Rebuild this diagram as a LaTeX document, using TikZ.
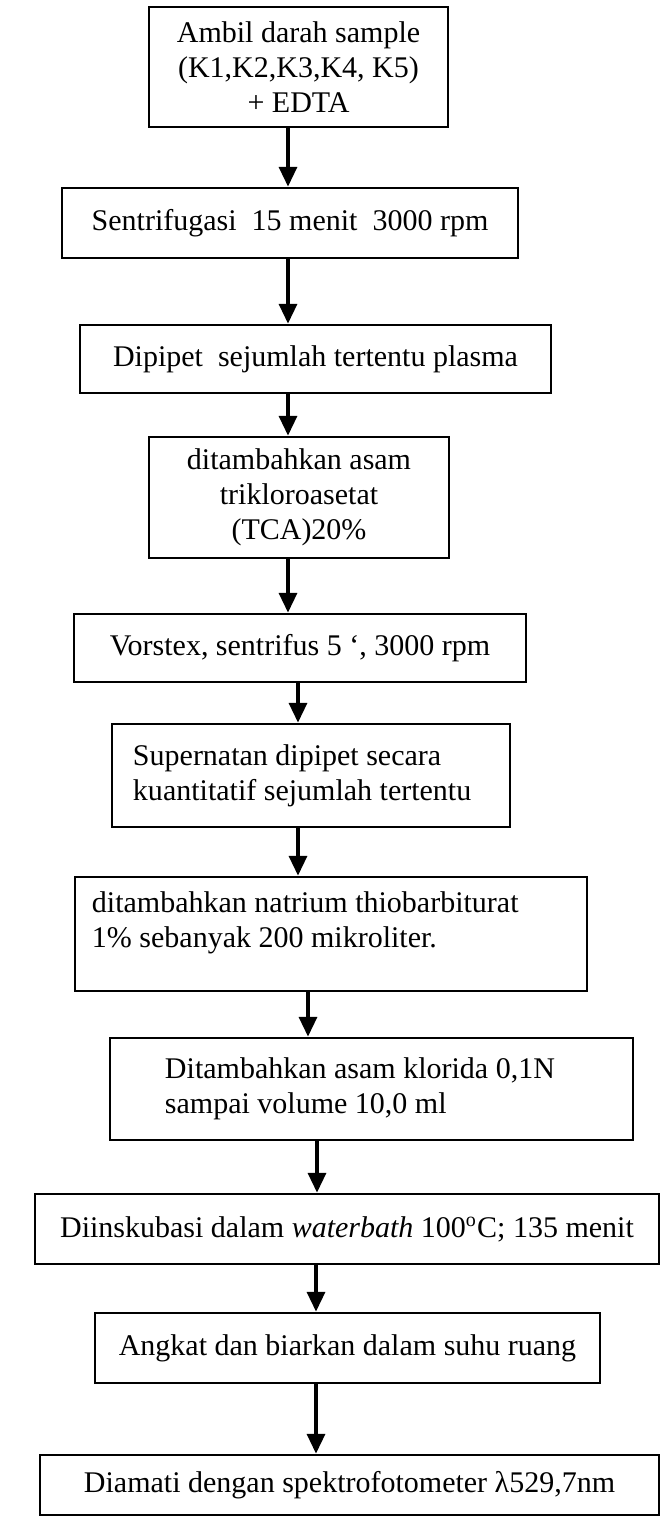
\documentclass[tikz,border=0pt]{standalone}
\usepackage{fontspec}
\setmainfont{Liberation Serif}
\usetikzlibrary{arrows.meta}

\begin{document}
\begin{tikzpicture}[x=0.4pt,y=-0.4pt,>/.tip={Triangle[length=8pt,width=7pt]},
	box/.style={draw,line width=0.9pt,inner sep=0pt,font=\fontsize{12}{14}\selectfont},
	flow/.style={->,line width=1.8pt}]
	\useasboundingbox (0,0) rectangle (660,1518);
	\draw (298.5,67) node(b1) [box,align=center,minimum width=119.6pt,minimum height=48pt] {Ambil darah sample\\(K1,K2,K3,K4, K5)\\+ EDTA};
	\draw (290,223) node(b2) [box,minimum width=182.4pt,minimum height=28pt] {Sentrifugasi\ \ 15 menit\ \ 3000 rpm};
	\draw (315.5,359) node(b3) [box,minimum width=188.4pt,minimum height=27.2pt] {Dipipet\ \ sejumlah tertentu plasma};
	\draw (299,497.5) node(b4) [box,align=center,minimum width=120pt,minimum height=48.4pt] {ditambahkan asam\\trikloroasetat\\(TCA)20\%};
	\draw (300,648) node(b5) [box,minimum width=180.8pt,minimum height=27.2pt] {Vorstex, sentrifus 5 ‘, 3000 rpm};
	\draw (311,775.5) node(b6) [box,align=flush left,inner xsep=8.4pt,text width=142.4pt,minimum height=41.2pt] {Supernatan dipipet secara\\kuantitatif sejumlah tertentu};
	\draw (331,934) node(b7) [box,align=flush left,inner xsep=6.8pt,text width=191.2pt,minimum height=45.6pt] {ditambahkan natrium thiobarbiturat\\1\% sebanyak 200 mikroliter.\\[-7pt]\strut};
	\draw (371.5,1089) node(b8) [box,align=flush left,inner xsep=22pt,text width=165.2pt,minimum height=40.8pt] {Ditambahkan asam klorida 0,1N\\sampai volume 10,0 ml};
	\draw (347,1229) node(b9) [box,minimum width=249.6pt,minimum height=28pt] {Diinskubasi dalam \textit{waterbath} 100\textsuperscript{o}C; 135 menit};
	\draw (347.5,1348) node(b10) [box,minimum width=202pt,minimum height=28pt] {Angkat dan biarkan dalam suhu ruang};
	\draw (349.5,1485) node(b11) [box,minimum width=247.6pt,minimum height=24pt] {Diamati dengan spektrofotometer λ529,7nm};

	\draw[flow] (b1.south -| 288,0) -- (b2.north -| 288,0);
	\draw[flow] (b2.south -| 288,0) -- (b3.north -| 288,0);
	\draw[flow] (b3.south -| 288,0) -- (b4.north -| 288,0);
	\draw[flow] (b4.south -| 288,0) -- (b5.north -| 288,0);
	\draw[flow] (b5.south -| 298,0) -- (b6.north -| 298,0);
	\draw[flow] (b6.south -| 298,0) -- (b7.north -| 298,0);
	\draw[flow] (b7.south -| 308,0) -- (b8.north -| 308,0);
	\draw[flow] (b8.south -| 317,0) -- (b9.north -| 317,0);
	\draw[flow] (b9.south -| 316,0) -- (b10.north -| 316,0);
	\draw[flow] (b10.south -| 316,0) -- (b11.north -| 316,0);
\end{tikzpicture}
\end{document}
